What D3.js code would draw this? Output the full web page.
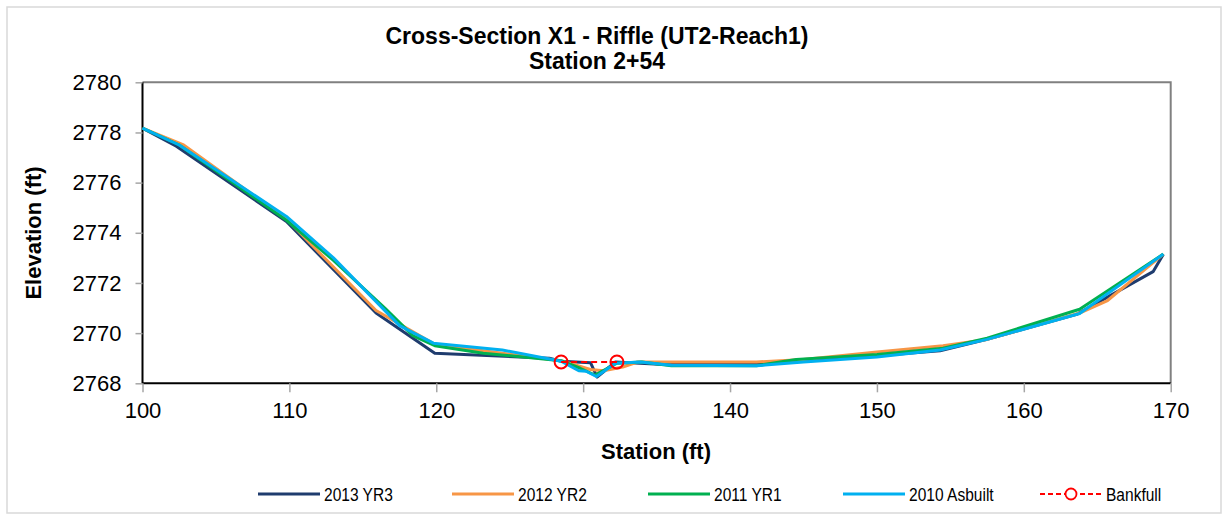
<!DOCTYPE html>
<meta charset="utf-8">
<style>
  body { margin: 0; background: #fff; }
  text { font-family: "Liberation Sans", Arial, sans-serif; }
</style>
<body>
<script src="https://cdn.jsdelivr.net/npm/d3@7"></script>
<script>
var width = 1223, height = 516;

// series: [station, elevation]
var yr2013 = [[100,2778.17],[102.3,2777.45],[109.8,2774.45],[115.9,2770.8],[119.9,2769.2],[127.7,2769.0],[128.5,2768.88],[130.5,2768.82],[130.95,2768.25],[132.2,2768.85],[135.5,2768.75],[141.8,2768.75],[144.5,2768.9],[150,2769.1],[154.3,2769.3],[157.5,2769.75],[163.6,2770.75],[168.8,2772.45],[169.5,2773.15]];
var yr2012 = [[100,2778.17],[102.8,2777.5],[109.8,2774.55],[115.9,2770.9],[119.9,2769.55],[124.5,2769.2],[128.5,2768.9],[130.5,2768.55],[131.4,2768.5],[132.7,2768.65],[133.7,2768.85],[141.8,2768.85],[145,2768.95],[150,2769.25],[154.5,2769.5],[157.5,2769.75],[163.8,2770.8],[165.7,2771.3],[169.5,2773.15]];
var yr2011 = [[100,2778.17],[102.5,2777.5],[109.8,2774.5],[113,2772.9],[116.5,2771.0],[118.4,2769.9],[119.9,2769.5],[123.2,2769.2],[128.5,2768.9],[129.8,2768.6],[130.8,2768.33],[132.3,2768.8],[134,2768.85],[136,2768.7],[141.8,2768.7],[144.5,2768.95],[150,2769.15],[154.5,2769.4],[157.5,2769.8],[163.8,2770.95],[169.5,2773.15]];
var asbuilt = [[100,2778.17],[102.5,2777.5],[109.8,2774.65],[113,2773.0],[117.5,2770.3],[119.8,2769.6],[124.5,2769.33],[128.5,2768.88],[129.7,2768.5],[130.2,2768.48],[130.9,2768.27],[132.2,2768.8],[133.9,2768.85],[136,2768.72],[141.8,2768.7],[145,2768.85],[150,2769.05],[154.3,2769.33],[157.5,2769.75],[163.8,2770.78],[169.5,2773.15]];
var bankfull = [[128.5,2768.85],[132.3,2768.85]];

var seriesNames = ["2013 YR3", "2012 YR2", "2011 YR1", "2010 Asbuilt", "Bankfull"];
var seriesColors = ["#1F3C6E", "#F79646", "#00B050", "#00B0F0", "#FF0000"];
var xTicks = [100,110,120,130,140,150,160,170];
var yTicks = [2768,2770,2772,2774,2776,2778,2780];

var margin = {left: 142.5, top: 82.3, right: 1170.7, bottom: 383.3};

var x = d3.scaleLinear().domain([100,170]).range([margin.left, margin.right]);
var y = d3.scaleLinear().domain([2768,2780]).range([margin.bottom, margin.top]);

var svg = d3.select("body").append("svg")
  .attr("width", width)
  .attr("height", height);

// outer chart border
svg.append("rect")
  .attr("x", 7).attr("y", 7)
  .attr("width", 1214).attr("height", 506)
  .attr("fill", "#fff")
  .attr("stroke", "#D9D9D9")
  .attr("stroke-width", 1.5);

// title
svg.append("text")
  .attr("x", 597).attr("y", 44)
  .attr("text-anchor", "middle")
  .attr("font-size", 23).attr("font-weight", "bold")
  .text("Cross-Section X1 - Riffle (UT2-Reach1)");
svg.append("text")
  .attr("x", 597).attr("y", 69)
  .attr("text-anchor", "middle")
  .attr("font-size", 23).attr("font-weight", "bold")
  .text("Station 2+54");

// frame top & right
svg.append("path")
  .attr("d", "M" + margin.left + "," + margin.top + "H" + margin.right + "V" + margin.bottom)
  .attr("fill", "none").attr("stroke", "#808080").attr("stroke-width", 2);

// axes
var xAxis = svg.append("g")
  .attr("transform", "translate(0," + margin.bottom + ")")
  .call(d3.axisBottom(x).tickValues(xTicks).tickSize(9).tickPadding(10).tickFormat(d3.format("d")));
var yAxis = svg.append("g")
  .attr("transform", "translate(" + margin.left + ",0)")
  .call(d3.axisLeft(y).tickValues(yTicks).tickSize(7).tickPadding(14).tickFormat(d3.format("d")));

[xAxis, yAxis].forEach(function(a) {
  a.select(".domain").attr("stroke", "#000").attr("stroke-width", 2);
  a.selectAll(".tick line").attr("stroke", "#A6A6A6").attr("stroke-width", 1.5);
  a.selectAll(".tick text").attr("font-size", 22).attr("fill", "#000")
    .attr("font-family", "'Liberation Sans', Arial, sans-serif");
});
xAxis.select(".domain").attr("d", "M" + margin.left + ",0H" + margin.right);
yAxis.select(".domain").attr("d", "M0," + margin.top + "V" + margin.bottom);

// axis titles
svg.append("text")
  .attr("x", 656).attr("y", 459)
  .attr("text-anchor", "middle")
  .attr("font-size", 22).attr("font-weight", "bold")
  .text("Station (ft)");
svg.append("text")
  .attr("transform", "translate(41,233) rotate(-90)")
  .attr("text-anchor", "middle")
  .attr("font-size", 22).attr("font-weight", "bold")
  .text("Elevation (ft)");

// lines
var line = d3.line().x(function(d) { return x(d[0]); }).y(function(d) { return y(d[1]); });
var allSeries = [yr2013, yr2012, yr2011, asbuilt];
allSeries.forEach(function(s, i) {
  svg.append("path")
    .datum(s)
    .attr("d", line)
    .attr("fill", "none")
    .attr("stroke", seriesColors[i])
    .attr("stroke-width", 3)
    .attr("stroke-linejoin", "round");
});

// bankfull
svg.append("path")
  .datum(bankfull)
  .attr("d", line)
  .attr("fill", "none")
  .attr("stroke", seriesColors[4])
  .attr("stroke-width", 2.2)
  .attr("stroke-dasharray", "6,4");
svg.selectAll("circle.bf")
  .data(bankfull)
  .enter().append("circle")
  .attr("class", "bf")
  .attr("cx", function(d) { return x(d[0]); })
  .attr("cy", function(d) { return y(d[1]); })
  .attr("r", 6.5)
  .attr("fill", "none")
  .attr("stroke", seriesColors[4])
  .attr("stroke-width", 2);

// legend (item left edges)
var legendX = [258, 452, 648, 843, 1040];
var ly = 494;
seriesNames.forEach(function(name, i) {
  var g = svg.append("g").attr("transform", "translate(" + legendX[i] + "," + ly + ")");
  var ln = g.append("line")
    .attr("x1", 0).attr("x2", 62).attr("y1", 0).attr("y2", 0)
    .attr("stroke", seriesColors[i])
    .attr("stroke-width", i == 4 ? 2 : 3);
  if (i == 4) {
    ln.attr("stroke-dasharray", "5,3");
    g.append("circle").attr("cx", 31).attr("cy", 0).attr("r", 5.5)
      .attr("fill", "#fff").attr("stroke", seriesColors[i]).attr("stroke-width", 1.8);
  }
  g.append("text")
    .attr("transform", "translate(66,7) scale(0.84,1)")
    .attr("font-size", 18.5)
    .text(name);
});
</script>
</body>
